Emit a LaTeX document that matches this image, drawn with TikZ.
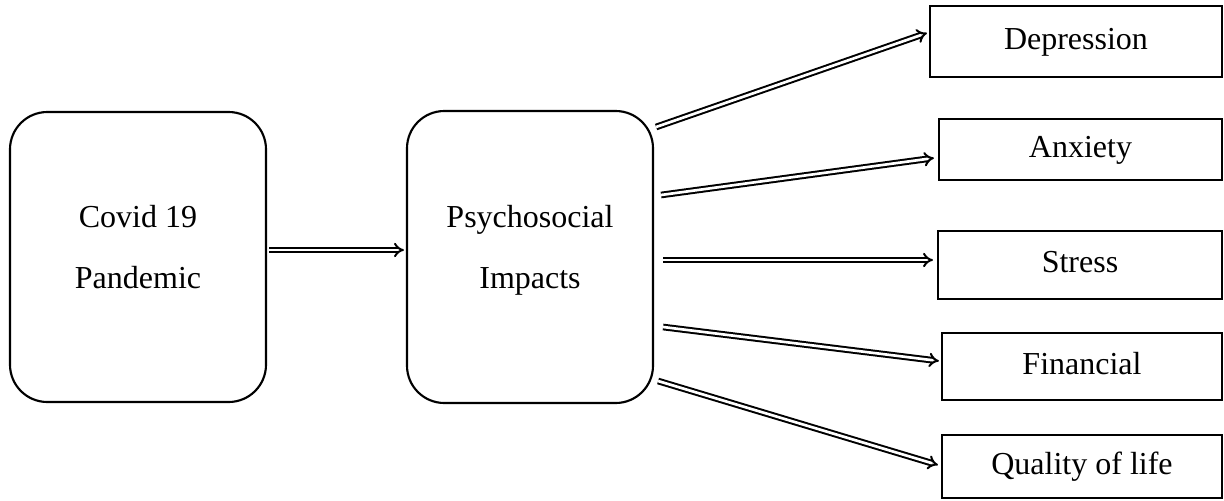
\documentclass[tikz,border=0pt]{standalone}
\usepackage{fontspec}
\setmainfont{Liberation Serif}
\usetikzlibrary{arrows.meta,calc}
\begin{document}
\begin{tikzpicture}[x=0.75pt,y=-0.75pt,
  bigbox/.style={draw,line width=1.6pt,rounded corners=28pt,align=center,
    font=\fontsize{24}{45.75}\selectfont,text depth=15pt,inner sep=0pt},
  smallbox/.style={draw,line width=1.6pt,font=\fontsize{24}{29}\selectfont,
    text height=16.5pt,text depth=5.25pt,inner sep=0pt},
  dblarrow/.style={double,line width=1.5pt,double distance=2pt,-{Implies[length=6pt,width=11pt]}}]
\useasboundingbox (0,0) rectangle (1224,500);
\node[bigbox,minimum width=192pt,minimum height=217.5pt] (covid) at (138,257) {Covid 19\\Pandemic};
\node[bigbox,minimum width=184.5pt,minimum height=219pt] (psych) at (530,257) {Psychosocial\\Impacts};
\node[smallbox,minimum width=219pt,minimum height=53.25pt] (dep) at (1076,41.5) {Depression};
\node[smallbox,minimum width=212.25pt,minimum height=45.75pt] (anx) at (1080.5,149.5) {Anxiety};
\node[smallbox,minimum width=213pt,minimum height=51pt] (str) at (1080,265) {Stress};
\node[smallbox,minimum width=210pt,minimum height=50.25pt] (fin) at (1082,366.5) {Financial};
\node[smallbox,minimum width=210pt,minimum height=47.25pt] (qol) at (1082,466.5) {Quality of life};
\draw[dblarrow] ($(covid.east)+(2,-7)$) -- ($(psych.west)+(-2,-7)$);
\draw[dblarrow] ($(psych.east)+(2,-130)$) -- ($(dep.west)+(-2,-8.5)$);
\draw[dblarrow] ($(psych.east)+(7,-62)$) -- ($(anx.west)+(-4,8.5)$);
\draw[dblarrow] ($(psych.east)+(9,3)$) -- ($(str.west)+(-4,-5)$);
\draw[dblarrow] ($(psych.east)+(9,70)$) -- ($(fin.west)+(-2,-5.5)$);
\draw[dblarrow] ($(psych.east)+(4,124)$) -- ($(qol.west)+(-3,-1.5)$);
\end{tikzpicture}
\end{document}
